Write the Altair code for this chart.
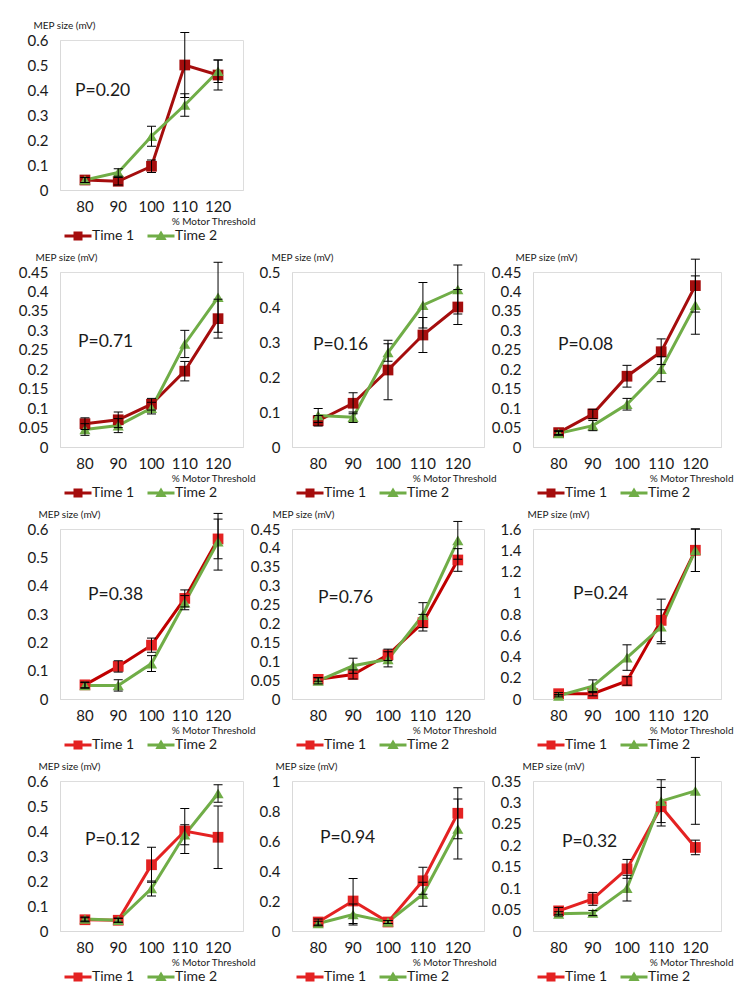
import altair as alt
import pandas as pd

# ---------------- data ----------------
LEVELS = ["80", "90", "100", "110", "120"]
SERIES = ["Time 1", "Time 2"]
P_LABELS = ["P=0.20", "P=0.71", "P=0.16", "P=0.08", "P=0.38",
            "P=0.76", "P=0.24", "P=0.12", "P=0.94", "P=0.32"]

T1_MEAN = [
    [0.040, 0.035, 0.095, 0.500, 0.460],
    [0.060, 0.070, 0.110, 0.195, 0.330],
    [0.075, 0.125, 0.220, 0.320, 0.400],
    [0.037, 0.085, 0.182, 0.245, 0.415],
    [0.050, 0.115, 0.190, 0.355, 0.565],
    [0.052, 0.065, 0.117, 0.202, 0.368],
    [0.050, 0.050, 0.170, 0.740, 1.400],
    [0.045, 0.043, 0.265, 0.400, 0.375],
    [0.060, 0.200, 0.060, 0.335, 0.785],
    [0.047, 0.075, 0.145, 0.290, 0.195],
]
T1_ERR = [
    [0.010, 0.015, 0.025, 0.130, 0.060],
    [0.015, 0.020, 0.015, 0.025, 0.050],
    [0.015, 0.030, 0.085, 0.050, 0.050],
    [0.005, 0.012, 0.028, 0.033, 0.068],
    [0.010, 0.020, 0.025, 0.030, 0.070],
    [0.005, 0.012, 0.015, 0.022, 0.030],
    [0.010, 0.020, 0.040, 0.200, 0.200],
    [0.008, 0.008, 0.070, 0.090, 0.125],
    [0.020, 0.150, 0.010, 0.090, 0.170],
    [0.008, 0.015, 0.022, 0.045, 0.017],
]
T2_MEAN = [
    [0.040, 0.070, 0.215, 0.340, 0.475],
    [0.045, 0.055, 0.100, 0.265, 0.385],
    [0.090, 0.085, 0.270, 0.405, 0.450],
    [0.035, 0.055, 0.110, 0.200, 0.365],
    [0.048, 0.048, 0.125, 0.340, 0.555],
    [0.048, 0.088, 0.105, 0.222, 0.420],
    [0.030, 0.120, 0.390, 0.680, 1.400],
    [0.048, 0.043, 0.170, 0.385, 0.550],
    [0.050, 0.110, 0.060, 0.245, 0.680],
    [0.040, 0.042, 0.100, 0.303, 0.327],
]
T2_ERR = [
    [0.010, 0.015, 0.040, 0.045, 0.045],
    [0.015, 0.018, 0.015, 0.035, 0.090],
    [0.020, 0.015, 0.025, 0.065, 0.070],
    [0.005, 0.013, 0.015, 0.032, 0.075],
    [0.010, 0.020, 0.028, 0.025, 0.100],
    [0.008, 0.020, 0.020, 0.033, 0.050],
    [0.010, 0.060, 0.120, 0.160, 0.200],
    [0.008, 0.008, 0.030, 0.040, 0.035],
    [0.015, 0.070, 0.010, 0.080, 0.200],
    [0.005, 0.006, 0.030, 0.050, 0.078],
]
Y_MAX = [0.6, 0.45, 0.5, 0.45, 0.6, 0.45, 1.6, 0.6, 1.0, 0.35]
Y_STEP = [0.1, 0.05, 0.1, 0.05, 0.1, 0.05, 0.2, 0.1, 0.2, 0.05]

# ---------------- styles / layout ----------------
FONT = "Lato"
TEXT = "#1a1a1a"
GREEN = "#70AD47"
COLORS = (  # (line colour, marker colour) for Time 1
    [("#A50D0D", "#A50D0D")] * 4
    + [("#C00000", "#E42222")] * 3
    + [("#E42222", "#E42222")] * 3
)
COL_W = [183, 192, 188]
ROW_H = [150, 175, 170, 150]
# grid cell (row, col), p-text x, p-text y, y-title x
LAYOUT = [
    (0, 0, 15, 51, -27),
    (1, 0, 18, 70, -25), (1, 1, 21, 73, -21), (1, 2, 25, 73, -18),
    (2, 0, 28, 66, -22), (2, 1, 26, 69, -20), (2, 2, 40, 65, -6),
    (3, 0, 25, 59, -22), (3, 1, 28, 57, -17), (3, 2, 29, 61, -11),
]
SQ_PATH = "M-1,-0.33H5V0.33H-1Z M1,-1H3V1H1Z"
TRI_PATH = "M-1,-0.33H5V0.33H-1Z M2,-1.2L3.25,0.9H0.75Z"


def panel(i):
    r, c, px, py, tx = LAYOUT[i]
    w, h = COL_W[c], ROW_H[r]
    rows = []
    for s, means, errs in (("Time 1", T1_MEAN[i], T1_ERR[i]),
                           ("Time 2", T2_MEAN[i], T2_ERR[i])):
        for lv, m, e in zip(LEVELS, means, errs):
            rows.append({"level": lv, "series": s, "mean": m,
                         "lo": m - e, "hi": m + e})
    df = pd.DataFrame(rows)
    line_c, mark_c = COLORS[i]
    n = int(round(Y_MAX[i] / Y_STEP[i]))
    ticks = [round(k * Y_STEP[i], 2) for k in range(n + 1)]

    x_axis = alt.Axis(
        title="% Motor Threshold", labelAngle=0, ticks=False, grid=False,
        domainColor="#D9D9D9", domainWidth=1, labelFontSize=15,
        labelPadding=9, labelColor=TEXT, labelFont=FONT,
        titleFontSize=10, titleFontWeight="normal", titleFont=FONT,
        titleColor=TEXT, titleAlign="right", titleBaseline="middle",
        titleX=w + 12, titleY=31,
    )
    y_axis = alt.Axis(
        title="MEP size (mV)", values=ticks, format="~g", ticks=False,
        grid=False, domainColor="#D9D9D9", domainWidth=1, labelFontSize=15,
        labelPadding=12, labelColor=TEXT, labelFont=FONT,
        titleAngle=0, titleAlign="left", titleBaseline="middle",
        titleX=tx, titleY=-15, titleFontSize=10, titleFontWeight="normal",
        titleFont=FONT, titleColor=TEXT,
    )
    x_scale = alt.Scale(domain=LEVELS, padding=0.5)
    y_scale = alt.Scale(domain=[0, Y_MAX[i]], nice=False, zero=True)

    def X():
        return alt.X("level:N", scale=x_scale, axis=x_axis, sort=LEVELS)

    def Y(field):
        return alt.Y(field, scale=y_scale, axis=y_axis)

    base = alt.Chart(df)
    t1 = base.transform_filter("datum.series === 'Time 1'")
    t2 = base.transform_filter("datum.series === 'Time 2'")
    line1 = t1.mark_line(strokeWidth=3, color=line_c).encode(x=X(), y=Y("mean:Q"))
    line2 = t2.mark_line(strokeWidth=3, color=GREEN).encode(x=X(), y=Y("mean:Q"))
    sq = t1.mark_point(shape="square", filled=True, opacity=1, size=115,
                       color=mark_c).encode(x=X(), y=Y("mean:Q"))
    tri = t2.mark_point(shape="triangle-up", filled=True, opacity=1, size=125,
                        color=GREEN).encode(x=X(), y=Y("mean:Q"))

    legend = alt.Legend(
        title=None, orient="none", legendX=2, legendY=h + 39, padding=0,
        direction="horizontal", symbolSize=81, symbolStrokeWidth=0,
        labelFontSize=14, labelFont=FONT, labelColor=TEXT, labelOffset=16,
        columnPadding=10, symbolOpacity=1,
    )
    leg = base.transform_filter("false").mark_point(filled=True, opacity=1).encode(
        x=X(), y=Y("mean:Q"),
        fill=alt.Fill("series:N",
                      scale=alt.Scale(domain=SERIES, range=[mark_c, GREEN]),
                      legend=legend),
        shape=alt.Shape("series:N",
                        scale=alt.Scale(domain=SERIES, range=[SQ_PATH, TRI_PATH]),
                        legend=legend),
    )
    err = base.mark_rule(color="black", strokeWidth=1).encode(
        x=X(), y=Y("lo:Q"), y2="hi:Q")
    caps = base.transform_fold(["lo", "hi"], as_=["end", "val"]).mark_tick(
        color="black", size=9, thickness=1, opacity=1).encode(x=X(), y=Y("val:Q"))
    ptxt = alt.Chart(pd.DataFrame({"p": [P_LABELS[i]]})).mark_text(
        align="left", baseline="middle", fontSize=17.5, font=FONT, color=TEXT
    ).encode(text="p:N", x=alt.value(px), y=alt.value(py))

    return alt.layer(line1, line2, sq, tri, leg, err, caps, ptxt).properties(
        width=w, height=h)


def blank(c):
    return alt.Chart(pd.DataFrame({"a": [0]})).mark_point(opacity=0).properties(
        width=COL_W[c], height=ROW_H[0])


cells = [panel(0), blank(1), blank(2)] + [panel(i) for i in range(1, 10)]
chart = alt.concat(*cells, columns=3, spacing={"row": 82, "column": 49},
                   bounds="flush").resolve_scale(
    fill="independent", shape="independent")

chart = chart.properties(
    padding={"left": 9, "top": 11, "right": 5, "bottom": 5}
).configure_view(stroke=None).configure(font=FONT)

chart.save("out.html", embed_options={"renderer": "svg", "actions": False})
